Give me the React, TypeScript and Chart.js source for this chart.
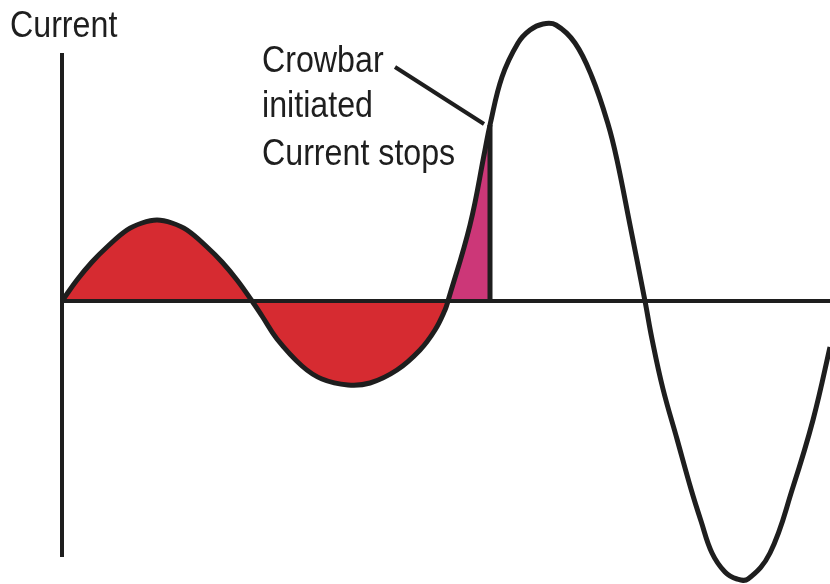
import React, { useEffect, useRef } from "react";
import { Chart, registerables } from "chart.js";

Chart.register(...registerables);

// Waveform (time in arbitrary units, current in arbitrary units)
const time = [
  0, 15, 30, 45, 65, 80, 95, 110, 125, 145, 160, 175, 190,
  200, 215, 240, 260, 286, 308, 335, 358, 373, 383, 386,
  408, 423, 428, 440, 456, 468, 481, 494, 513, 530, 546, 555, 568, 583,
  590, 601, 615, 629, 639, 650, 663, 675, 686, 708, 731, 751, 768, 778,
];
const current = [
  0, 21, 39, 54, 71, 78, 81, 78, 71, 54, 39, 21, 0,
  -15, -38, -65, -78, -84, -82, -69, -49, -29, -9, 0,
  76, 151, 176, 224, 258, 271, 277, 276, 258, 224, 177, 141, 76, 0,
  -38, -88, -138, -188, -220, -252, -271, -278, -278, -252, -186, -119, -46, 0,
];

const normalEnd = 386; // end of the two small half-cycles
const crowbarTime = 428; // crowbar initiated
const axisLabel = "Current";
const noteLines = ["Crowbar", "initiated", "Current stops"];
const noteLeader = [
  { x: 333, y: 234 },
  { x: 422, y: 177 },
];
const yAxisTop = 248;
const yAxisBottom = -256;
const xAxisEnd = 768;

const RED = "#d62b31";
const PINK = "#cc3778";
const INK = "#1e1e1e";

export default function App() {
  const ref = useRef<HTMLCanvasElement>(null);

  useEffect(() => {
    const pts = time.map((t, i) => ({ x: t, y: current[i] }));
    const redPts = pts.filter((p) => p.x <= normalEnd);
    const pinkPts = pts.filter((p) => p.x >= normalEnd && p.x <= crowbarTime);
    const crowbarIdx = time.indexOf(crowbarTime);
    const crowbarValue = current[crowbarIdx];

    const overlay = {
      id: "overlay",
      afterDatasetsDraw(chart: any) {
        const ctx = chart.ctx as CanvasRenderingContext2D;
        const xs = chart.scales.x;
        const ys = chart.scales.y;
        const px = (v: number) => xs.getPixelForValue(v);
        const py = (v: number) => ys.getPixelForValue(v);
        ctx.save();
        ctx.strokeStyle = INK;
        ctx.lineCap = "butt";
        // vertical axis
        ctx.lineWidth = 4;
        ctx.beginPath();
        ctx.moveTo(px(0), py(yAxisTop));
        ctx.lineTo(px(0), py(yAxisBottom));
        ctx.stroke();
        // horizontal axis
        ctx.beginPath();
        ctx.moveTo(px(0), py(0));
        ctx.lineTo(px(xAxisEnd), py(0));
        ctx.stroke();
        // crowbar line
        ctx.lineWidth = 5;
        ctx.beginPath();
        ctx.moveTo(px(crowbarTime), py(0) + 2);
        ctx.lineTo(px(crowbarTime), py(crowbarValue));
        ctx.stroke();
        // leader line
        ctx.lineWidth = 4;
        ctx.beginPath();
        ctx.moveTo(px(noteLeader[0].x), py(noteLeader[0].y));
        ctx.lineTo(px(noteLeader[1].x), py(noteLeader[1].y));
        ctx.stroke();
        // texts
        ctx.fillStyle = INK;
        ctx.font = "37px 'Liberation Sans', Arial, sans-serif";
        ctx.textBaseline = "alphabetic";
        ctx.textAlign = "left";
        const drawText = (s: string, x: number, y: number) => {
          ctx.save();
          ctx.translate(x, y);
          ctx.scale(0.87, 1);
          ctx.fillText(s, 0, 0);
          ctx.restore();
        };
        drawText(axisLabel, 10, 37);
        const baselines = [72, 117, 165];
        noteLines.forEach((s, i) => drawText(s, 262, baselines[i]));
        ctx.restore();
      },
    };

    const common = { pointRadius: 0, tension: 0.4, cubicInterpolationMode: "default" };

    const chart = new Chart(ref.current as HTMLCanvasElement, {
      type: "line",
      data: {
        datasets: [
          {
            ...common,
            data: pts,
            borderColor: INK,
            borderWidth: 5,
            fill: false,
            borderJoinStyle: "round",
            order: 0,
          },
          {
            ...common,
            data: redPts,
            borderColor: "transparent",
            borderWidth: 1,
            backgroundColor: RED,
            fill: "origin",
            order: 1,
          },
          {
            ...common,
            data: pinkPts,
            borderColor: "transparent",
            borderWidth: 1,
            backgroundColor: PINK,
            fill: "origin",
            order: 2,
          },
        ],
      },
      options: {
        animation: false,
        responsive: false,
        events: [],
        layout: { padding: 0, autoPadding: false },
        plugins: { legend: { display: false }, tooltip: { enabled: false } },
        scales: {
          x: { type: "linear", min: -62, max: 768, display: false },
          y: { type: "linear", min: -283, max: 301, display: false },
        },
      },
      plugins: [overlay],
    } as any);

    return () => chart.destroy();
  }, []);

  return (
    <div style={{ position: "absolute", left: 0, top: 0, width: 830, height: 584, background: "#fff" }}>
      <canvas ref={ref} width={830} height={584} />
    </div>
  );
}
